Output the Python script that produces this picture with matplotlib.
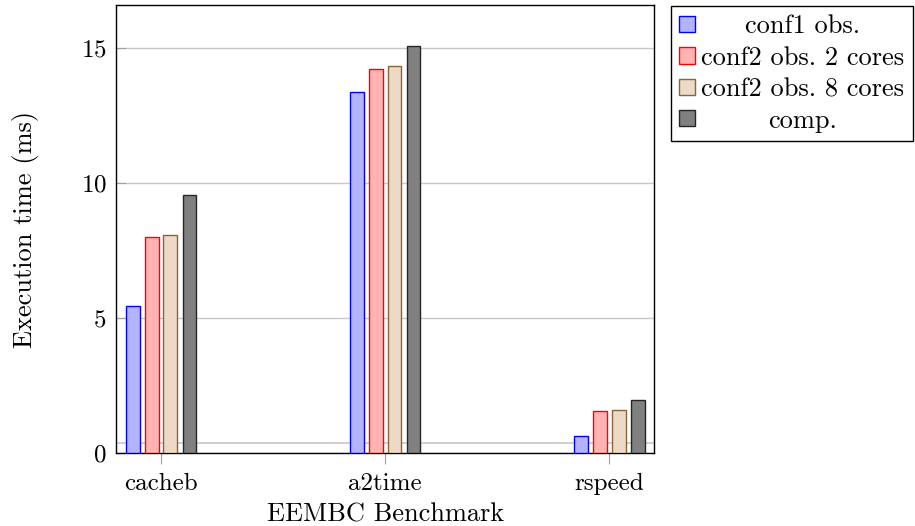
import numpy as np
import matplotlib
matplotlib.use("Agg")
import matplotlib.pyplot as plt
from matplotlib.patches import Patch

plt.rcParams['font.family'] = ['cmr10', 'DejaVu Serif']
plt.rcParams['mathtext.fontset'] = 'cm'
plt.rcParams['axes.formatter.use_mathtext'] = True

benchmarks = ["cacheb", "a2time", "rspeed"]
series = ["conf1 obs.", "conf2 obs. 2 cores", "conf2 obs. 8 cores", "comp."]
conf1_obs = [5.45, 13.38, 0.65]
conf2_2cores = [8.00, 14.22, 1.55]
conf2_8cores = [8.08, 14.34, 1.59]
comp = [9.57, 15.07, 1.98]
yticks = [0, 5, 10, 15]

values = [conf1_obs, conf2_2cores, conf2_8cores, comp]
faces = ["#b3b3ff", "#ffb3b3", "#ecd9c6", "#808080"]
edges = ["#0000ff", "#ff0000", "#8c6239", "#262626"]
offsets = [-0.126, -0.041, 0.041, 0.126]
width = 0.061

fig = plt.figure(figsize=(9.15, 5.26), dpi=100)
ax = fig.add_axes([0.1271, 0.1382, 0.5880, 0.8517])

x = np.arange(len(benchmarks))
for vals, fc, ec, off, lab in zip(values, faces, edges, offsets, series):
    ax.bar(x + off, vals, width, color=fc, edgecolor=ec, linewidth=1.0,
           label=lab, zorder=3)

ax.set_xlim(-0.2, 2.2)
ax.set_ylim(0, 1.1 * max(comp))
ax.set_xticks(x)
ax.set_xticklabels(benchmarks)
ax.set_yticks(yticks)
ax.grid(axis='y', color='#c8c8c8', linewidth=1.0, zorder=0)
ax.axhline(0.39, color='#c8c8c8', linewidth=1.2, zorder=0)
ax.tick_params(axis='y', direction='in', length=7.5, color='#a0a0a0',
               labelsize=18, pad=7)
ax.tick_params(axis='x', direction='out', length=8, color='#a0a0a0',
               labelsize=18, pad=6)
for s in ax.spines.values():
    s.set_linewidth(1.0)
    s.set_color('black')

ax.set_xlabel("EEMBC Benchmark", fontsize=19, labelpad=6)
ax.set_ylabel("Execution time (ms)", fontsize=19, labelpad=30)

handles = [Patch(facecolor=fc, edgecolor=ec, linewidth=1.0)
           for fc, ec in zip(faces, edges)]
leg = fig.legend(handles, series, loc='upper left',
                 bbox_to_anchor=(0.733, 0.9886), fontsize=19,
                 frameon=True, fancybox=False, edgecolor='black',
                 framealpha=1, borderpad=0.33, handlelength=0.59,
                 handleheight=0.58, handletextpad=0.22, labelspacing=0.29,
                 borderaxespad=0)
leg.get_frame().set_linewidth(1.0)

# center the legend texts like pgfplots does
fig.canvas.draw()
renderer = fig.canvas.get_renderer()
texts = leg.get_texts()
widths = [t.get_window_extent(renderer).width for t in texts]
wmax = max(widths)
for t, w in zip(texts, widths):
    t.set_x((wmax - w) / 2)

fig.savefig("out.png", dpi=100)
